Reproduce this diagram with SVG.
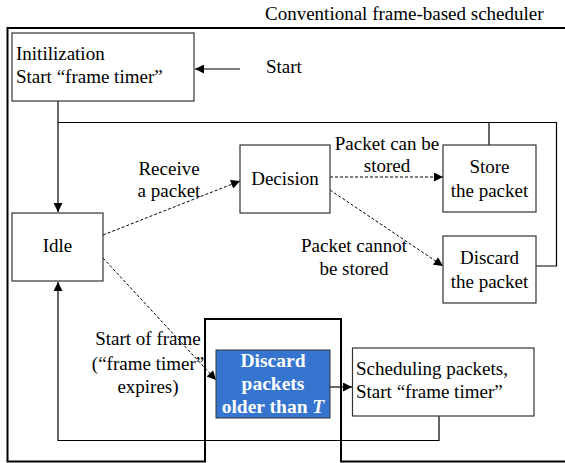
<svg xmlns="http://www.w3.org/2000/svg" width="565" height="463" viewBox="0 0 565 463" font-family="'Liberation Serif', 'DejaVu Serif', serif">
<style>
text{font-family:'Liberation Serif','DejaVu Serif',serif;font-size:19px;fill:#000}
.c{text-anchor:middle}
.box{fill:#fff;stroke:#333;stroke-width:1.2}
.ln{fill:none;stroke:#000;stroke-width:1.2}
.dl{fill:none;stroke:#000;stroke-width:1;stroke-dasharray:3,2}
.w{fill:#fff;font-weight:bold;font-size:19.5px}
</style>
<defs>
<marker id="ah" viewBox="0 0 10 10" refX="10" refY="5" markerWidth="13" markerHeight="9" markerUnits="userSpaceOnUse" orient="auto">
<path d="M0,0L10,5L0,10z" fill="#000"/>
</marker>
</defs>
<g id="frame">
<path d="M565,28H7.5V461.5H205V319H341V461.5H565" fill="none" stroke="#000" stroke-width="2"/>
<text x="265" y="20">Conventional frame-based scheduler</text>
</g>
<g id="connectors">
<line class="ln" x1="240" y1="69" x2="195" y2="69" marker-end="url(#ah)"/>
<path class="ln" d="M58,101V212" marker-end="url(#ah)"/>
<path class="ln" d="M58,122.5H556.5V266H536"/>
<path class="ln" d="M489,122.5V145"/>
<line class="dl" x1="103" y1="235" x2="240" y2="181" marker-end="url(#ah)"/>
<line class="dl" x1="330" y1="177" x2="443" y2="177" marker-end="url(#ah)"/>
<line class="dl" x1="330" y1="190" x2="443" y2="266" marker-end="url(#ah)"/>
<line class="dl" x1="103" y1="258" x2="216" y2="380" marker-end="url(#ah)"/>
<line class="ln" x1="330" y1="387" x2="352" y2="387" marker-end="url(#ah)"/>
<path class="ln" d="M439,416V440.5H58V282" marker-end="url(#ah)"/>
<text x="266" y="73">Start</text>
<text class="c" x="169" y="175">Receive</text>
<text class="c" x="169" y="197">a packet</text>
<text class="c" x="387" y="150">Packet can be</text>
<text class="c" x="387" y="172">stored</text>
<text class="c" x="354" y="252">Packet cannot</text>
<text class="c" x="354" y="275">be stored</text>
<text class="c" x="148" y="345">Start of frame</text>
<text class="c" x="148" y="370">(“frame timer”</text>
<text class="c" x="148" y="393">expires)</text>
</g>
<g id="init">
<rect class="box" x="12" y="33" width="182" height="68"/>
<text x="16" y="60">Initilization</text>
<text x="16" y="83">Start “frame timer”</text>
</g>
<g id="idle">
<rect class="box" x="12" y="213" width="91" height="68"/>
<text class="c" x="57.5" y="252">Idle</text>
</g>
<g id="decision">
<rect class="box" x="240" y="145" width="90" height="68"/>
<text class="c" x="285" y="185">Decision</text>
</g>
<g id="store">
<rect class="box" x="443" y="145" width="93" height="67"/>
<text class="c" x="489.5" y="173">Store</text>
<text class="c" x="489.5" y="197">the packet</text>
</g>
<g id="discard">
<rect class="box" x="443" y="236" width="93" height="67"/>
<text class="c" x="489.5" y="264">Discard</text>
<text class="c" x="489.5" y="288">the packet</text>
</g>
<g id="discard-old">
<rect x="216" y="350" width="114" height="68" fill="#3575cf" stroke="#333" stroke-width="1"/>
<text class="c w" x="273" y="367">Discard</text>
<text class="c w" x="273" y="390">packets</text>
<text class="c w" x="273" y="413">older than <tspan font-style="italic">T</tspan></text>
</g>
<g id="scheduling">
<rect class="box" x="352.5" y="348" width="181.5" height="68"/>
<text x="356" y="375">Scheduling packets,</text>
<text x="356" y="398">Start “frame timer”</text>
</g>
</svg>
